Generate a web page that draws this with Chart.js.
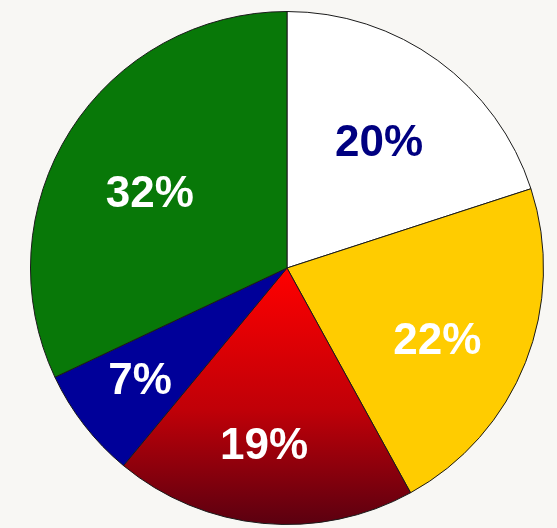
<!DOCTYPE html>
<html>
<head>
<meta charset="utf-8">
<script src="https://cdn.jsdelivr.net/npm/chart.js@4"></script>
<style>
  html, body { margin: 0; padding: 0; background: #f8f7f4; }
  #wrap { width: 557px; height: 528px; }
</style>
</head>
<body>
<div id="wrap"><canvas id="pie" width="557" height="528"></canvas></div>
<script>
// slices, clockwise from 12 o'clock
const labels = ['A', 'B', 'C', 'D', 'E'];
const values = [20, 22, 19, 7, 32];
const pctText = ['20%', '22%', '19%', '7%', '32%'];

// styling
const fills = ['#ffffff', '#ffcc00', 'gradient', '#000099', '#087808'];
const textColors = ['#000080', '#ffffff', '#ffffff', '#ffffff', '#ffffff'];
const labelRadius = [0.61, 0.65, 0.695, 0.72, 0.61];
const labelTurn = [0, 4, 2, 0.5, -3.7]; // degrees off the slice middle

function sliceColor(context) {
  const c = fills[context.dataIndex];
  if (c !== 'gradient') return c;
  const chart = context.chart;
  const area = chart.chartArea;
  if (!area) return '#cc0000';
  const midY = (area.top + area.bottom) / 2;
  const g = chart.ctx.createLinearGradient(0, midY, 0, area.bottom);
  g.addColorStop(0, '#ff0000');
  g.addColorStop(0.55, '#c00008');
  g.addColorStop(1, '#5a0010');
  return g;
}

const pctLabels = {
  id: 'pctLabels',
  afterDatasetsDraw(chart) {
    const ctx = chart.ctx;
    const meta = chart.getDatasetMeta(0);
    ctx.save();
    ctx.font = 'bold 44px "Liberation Sans", Arial, sans-serif';
    ctx.textAlign = 'center';
    ctx.textBaseline = 'middle';
    meta.data.forEach((arc, i) => {
      const mid = (arc.startAngle + arc.endAngle) / 2 + labelTurn[i] * Math.PI / 180;
      const r = arc.outerRadius * labelRadius[i];
      const x = arc.x + Math.cos(mid) * r;
      const y = arc.y + Math.sin(mid) * r;
      ctx.fillStyle = textColors[i];
      ctx.fillText(pctText[i], x, y + 2);
    });
    ctx.restore();
  }
};

new Chart(document.getElementById('pie'), {
  type: 'pie',
  data: {
    labels: labels,
    datasets: [{
      data: values,
      backgroundColor: sliceColor,
      borderColor: '#1a1a1a',
      borderWidth: 1
    }]
  },
  options: {
    responsive: false,
    animation: false,
    rotation: 0,
    layout: { padding: { left: 30, right: 13, top: 11, bottom: 3 } },
    plugins: {
      legend: { display: false },
      tooltip: { enabled: false }
    }
  },
  plugins: [pctLabels]
});
</script>
</body>
</html>
